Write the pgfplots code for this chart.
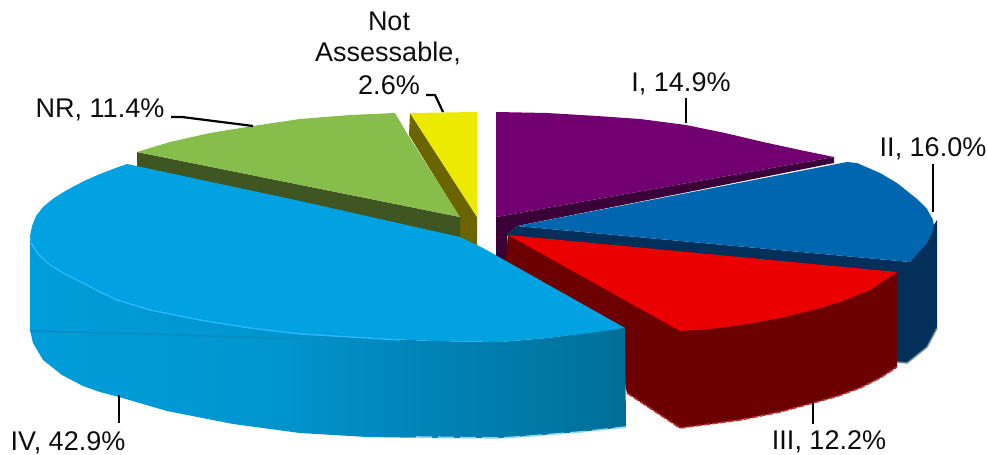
\documentclass[border=0pt]{standalone}
\usepackage{fontspec}
\setmainfont{Liberation Sans}
\usepackage{pgfplots}
\pgfplotsset{compat=1.18}
\definecolor{purpleTop}{HTML}{730071}
\definecolor{purpleSide}{HTML}{3A0038}
\definecolor{yellowTop}{HTML}{ECEA00}
\definecolor{yellowSide}{HTML}{6B6500}
\definecolor{greenTop}{HTML}{87BD4A}
\definecolor{greenSide}{HTML}{3F5522}
\definecolor{blueTop}{HTML}{0066B0}
\definecolor{blueSide}{HTML}{03305A}
\definecolor{redTop}{HTML}{EA0000}
\definecolor{redSide}{HTML}{6C0000}
\definecolor{cyanTop}{HTML}{00A2E1}
\definecolor{cyanEdge}{HTML}{2AB6F8}
\definecolor{cyanBand}{HTML}{0A8CC0}
% Wall of the largest slice darkens from left to right
\pgfdeclarehorizontalshading{cyanwall}{100bp}{
  color(0bp)=(cyanTop!97!black);
  color(25bp)=(cyanTop!97!black);
  color(45bp)=(cyanTop!92!black);
  color(60bp)=(cyanTop!80!black);
  color(75bp)=(cyanTop!68!black!95!teal);
  color(90bp)=(cyanTop!58!black);
  color(100bp)=(cyanTop!55!black)}
\begin{document}
\begin{tikzpicture}
\path[use as bounding box] (0,0) rectangle (494pt,227pt);
\begin{axis}[
  at={(0,0)}, anchor=south west,
  hide axis, scale only axis, width=494pt, height=227pt,
  xmin=0, xmax=988, ymin=0, ymax=454, y dir=reverse,
  clip=false, no markers,
  every axis plot/.append style={line join=round},
  nodes={font=\fontsize{13.5pt}{16pt}\selectfont, text=black!95, inner sep=0pt, anchor=base},
]
% Slice I: side, then top face
\addplot[draw=none, fill=purpleSide] coordinates {(496,217)(834,157)(834,163)(517,226)(507,235)(510,270)(496,262)};
\addplot[draw=none, fill=purpleTop] coordinates {(496,112)(547,113)(597,116)(640,119)(686,125)(725,133)(763,142)(800,150)(834,157)(496,217)};
% Slice Not Assessable
\addplot[draw=none, fill=yellowSide] coordinates {(410,113)(409,135)(460,218)(460,240)(477,252)(477,217)};
\addplot[draw=none, fill=yellowTop] coordinates {(410,113)(477,112)(477,217)};
% Slice NR
\addplot[draw=none, fill=greenSide] coordinates {(137,152)(460,217)(460,242)(137,168)};
\addplot[draw=none, fill=greenTop] coordinates {(137,152)(170,142)(210,133)(253,126)(300,119)(350,115)(395,113)(408,135)(460,217)};
% Slice II
\addplot[draw=none, fill=blueSide] coordinates {(517,226)(506,236)(895,274)(897,362)(907,363)(927,347)(937,328)(937,220)(910,262)};
\addplot[draw=none, fill=blueTop] coordinates {(517,226)(847,162)(857,163)(880,173)(897,183)(917,199)(927,209)(933,220)(934,226)(932,233)(927,243)(910,262)};
% Slice III
\addplot[draw=none, fill=redSide] coordinates {(508,235)(505,268)(615,340)(627,393)(680,428)(710,424)(740,420)(780,412)(813,403)(838,396)(860,388)(880,378)(897,367)(897,272)};
\addplot[draw=none, fill=redTop] coordinates {(508,235)(897,272)(870,290)(840,302)(813,310)(780,318)(747,324)(710,329)(680,331)};
\addplot[line width=0.8pt, color=red!45!redSide!80!white, dash pattern=on 3pt off 1pt] coordinates {(627,393)(680,428)(710,424)(740,420)(780,412)(813,403)(838,396)(860,388)(880,378)(897,367)};
\addplot[line width=0.7pt, color=blueSide!60!white] coordinates {(897,362)(907,363)(927,347)(937,328)};
% Slice IV: wall, top face, rim highlights
\addplot[draw=none, shading=cyanwall] coordinates {(30,236)(31,243)(50,265)(83,283)(117,300)(150,310)(200,320)(250,328)(300,334)(367,338)(433,341)(500,342)(547,338)(625,328)(626,427)(580,432)(530,436)(500,438)(433,438)(367,437)(300,433)(233,424)(167,411)(119,397)(100,392)(83,386)(62,375)(43,360)(33,343)(30,330)};
\addplot[draw=none, fill=cyanTop] coordinates {(127,164)(113,169)(100,174)(84,181)(67,190)(54,198)(43,207)(36,216)(32,226)(30,236)(31,243)(38,254)(50,265)(65,274)(83,283)(100,292)(117,300)(150,310)(200,320)(250,328)(300,334)(367,338)(433,341)(500,342)(547,338)(590,333)(625,328)(483,248)(460,237)(300,201)};
\addplot[line width=0.7pt, color=cyanEdge] coordinates {(31,243)(38,254)(50,265)(65,274)(83,283)(100,292)(117,300)(150,310)(200,320)(250,328)(300,334)(367,338)(400,340)};
\addplot[line width=0.9pt, color=cyanBand] coordinates {(30,331)(150,334)(300,339)(400,342)};
\addplot[line width=0.8pt, color=cyanTop!45!white, dash pattern=on 8pt off 3pt] coordinates {(416,437)(500,438)(530,436)(580,432)(626,427)};
% Leader lines
\addplot[black, line width=1.1pt] coordinates {(426,95)(435,95)(443,112)};
\addplot[black, line width=1.1pt] coordinates {(171,117)(182,117)(253,126)};
\addplot[black, line width=1.1pt] coordinates {(686,98)(686,123)};
\addplot[black, line width=1.1pt] coordinates {(933,164)(933,212)};
\addplot[black, line width=1.1pt] coordinates {(813,403)(813,424)};
\addplot[black, line width=1.1pt] coordinates {(119,395)(119,423)};
% Slice labels
\node at (axis cs:389,31) {Not};
\node at (axis cs:388,62) {Assessable,};
\node at (axis cs:389,95) {2.6\%};
\node at (axis cs:100,118) {NR, 11.4\%};
\node at (axis cs:681,92) {I, 14.9\%};
\node at (axis cs:933,157) {II, 16.0\%};
\node at (axis cs:829,449) {III, 12.2\%};
\node at (axis cs:68,450) {IV, 42.9\%};
\end{axis}
\end{tikzpicture}
\end{document}
